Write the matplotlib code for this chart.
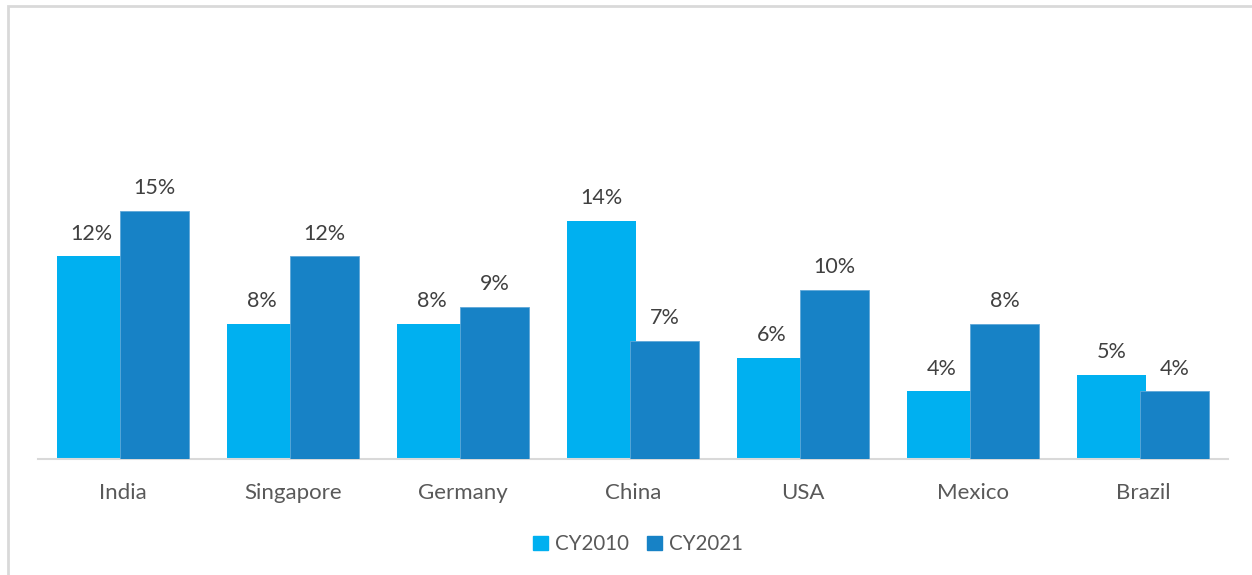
import numpy as np
import matplotlib
matplotlib.use('Agg')
import matplotlib.pyplot as plt
from matplotlib.patches import Patch, Rectangle

# ── Data ──────────────────────────────────────────────────────────────────────
countries = ['India', 'Singapore', 'Germany', 'China', 'USA', 'Mexico', 'Brazil']
cy2010 = [12.0, 8.0, 8.0, 14.1, 6.0, 4.0, 5.0]
cy2021 = [14.7, 12.0, 9.0, 7.0, 10.0, 8.0, 4.0]
series_names = ['CY2010', 'CY2021']

# ── Style ─────────────────────────────────────────────────────────────────────
C2010 = '#00B0F0'
C2021 = '#1782C6'
TXT = '#404040'
plt.rcParams['font.family'] = ['Lato', 'DejaVu Sans']

W, H = 1252, 575
fig = plt.figure(figsize=(W / 100, H / 100), dpi=100)
fig.patch.set_facecolor('white')

# chart frame (only top/left edges visible in the crop)
fig.patches.append(Rectangle((8 / W, -0.1), 1.2, (H - 6) / H + 0.1,
                             transform=fig.transFigure, fill=False,
                             edgecolor='#D9D9D9', linewidth=2))

ax = fig.add_axes([38 / W, (H - 459) / H, (1228 - 38) / W, (459 - 45) / H])
x = np.arange(len(countries))
bw = 0.406
off = 0.185

b1 = ax.bar(x - off, cy2010, bw, color=C2010, zorder=2)
b2 = ax.bar(x + off, cy2021, bw, color=C2021, zorder=3,
            edgecolor='#5FA8D8', linewidth=0.6)

for bars in (b1, b2):
    for bar in bars:
        v = bar.get_height()
        ax.annotate(f'{v:.0f}%', (bar.get_x() + bar.get_width() / 2, v),
                    xytext=(0, 12), textcoords='offset points',
                    ha='center', va='baseline', fontsize=15.5, color=TXT)

ax.set_xlim(-0.5, len(countries) - 0.5)
ax.set_ylim(0, 24.5)
ax.set_yticks([])
ax.set_xticks(x)
ax.set_xticklabels(countries, fontsize=16, color='#595959')
ax.tick_params(axis='x', length=0, pad=17)
for s in ['top', 'right', 'left']:
    ax.spines[s].set_visible(False)
ax.spines['bottom'].set_color('#D9D9D9')
ax.spines['bottom'].set_linewidth(1.5)

handles = [Patch(color=C2010), Patch(color=C2021)]
fig.legend(handles, series_names, loc='center', ncol=2, frameon=False,
           bbox_to_anchor=(638 / W, (H - 544) / H), fontsize=14.8,
           labelcolor='#595959', handlelength=0.7, handleheight=0.7,
           handletextpad=0.35, columnspacing=0.9)

plt.savefig('out.png', dpi=100)
plt.close()
